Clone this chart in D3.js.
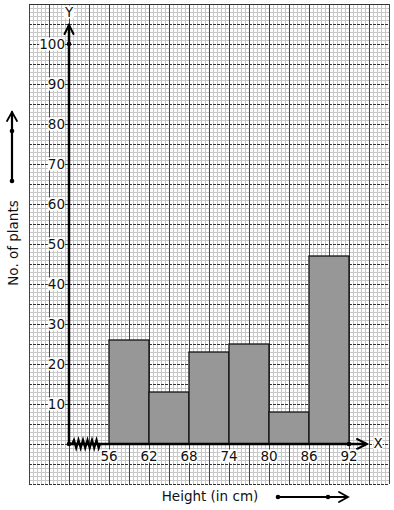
<!DOCTYPE html>
<html>
<head>
<meta charset="utf-8">
<script src="https://cdn.jsdelivr.net/npm/d3@7"></script>
<style>
  body { margin: 0; background: #fff; }
  text { font-family: "DejaVu Sans", sans-serif; font-size: 13.5px; fill: #111; }
</style>
</head>
<body>
<div id="chart"></div>
<script>
'use strict';

// class intervals (height in cm) and number of plants
const edges = [56, 62, 68, 74, 80, 86, 92];
const counts = [26, 13, 23, 25, 8, 47];
const yTicks = [10, 20, 30, 40, 50, 60, 70, 80, 90, 100];

const W = 394, H = 510;
const svg = d3.select('#chart').append('svg').attr('width', W).attr('height', H);

const x = d3.scaleLinear().domain([50, 92]).range([69, 349]);
const y = d3.scaleLinear().domain([0, 100]).range([444, 44]);

// graph paper
const gx0 = 29, gx1 = 389, gy0 = 4, gy1 = 484;
const paper = svg.append('g');
d3.range(gx0, gx1 + 1, 4).forEach(function (px) {
  if ((px - gx0) % 20 == 0) return;
  paper.append('line').attr('x1', px).attr('x2', px).attr('y1', gy0).attr('y2', gy1)
    .attr('stroke', '#c8c8c8').attr('stroke-width', 1).attr('shape-rendering', 'crispEdges');
});
d3.range(gy0, gy1 + 1, 4).forEach(function (py) {
  if ((py - gy0) % 20 == 0) return;
  paper.append('line').attr('x1', gx0).attr('x2', gx1).attr('y1', py).attr('y2', py)
    .attr('stroke', '#c8c8c8').attr('stroke-width', 1).attr('shape-rendering', 'crispEdges');
});
// major lines: vertical solid, horizontal dashed
d3.range(gx0, gx1 + 1, 20).forEach(function (px) {
  paper.append('line').attr('x1', px).attr('x2', px).attr('y1', gy0).attr('y2', gy1)
    .attr('stroke', '#444').attr('stroke-width', 1).attr('shape-rendering', 'crispEdges');
});
d3.range(gy0, gy1 + 1, 20).forEach(function (py) {
  paper.append('line').attr('x1', gx0).attr('x2', gx1).attr('y1', py).attr('y2', py)
    .attr('stroke', '#333').attr('stroke-width', 1)
    .attr('stroke-dasharray', py == gy0 ? null : '3,1').attr('shape-rendering', 'crispEdges');
});

// bars
const bins = counts.map(function (c, i) { return { x0: edges[i], x1: edges[i + 1], n: c }; });
svg.append('g').selectAll('rect').data(bins).join('rect')
  .attr('x', d => x(d.x0))
  .attr('y', d => y(d.n))
  .attr('width', d => x(d.x1) - x(d.x0))
  .attr('height', d => y(0) - y(d.n))
  .attr('fill', '#979797')
  .attr('stroke', '#111')
  .attr('stroke-width', 1.3);

// axes
const ax = svg.append('g').attr('stroke', '#000').attr('fill', 'none').attr('stroke-linecap', 'round');
ax.append('line').attr('x1', x(50)).attr('x2', x(50)).attr('y1', y(0)).attr('y2', 25).attr('stroke-width', 2.5);
ax.append('path').attr('d', 'M' + (x(50) - 4.5) + ',34 L' + x(50) + ',25 L' + (x(50) + 4.5) + ',34').attr('stroke-width', 2);
ax.append('line').attr('x1', x(50)).attr('x2', 366).attr('y1', y(0)).attr('y2', y(0)).attr('stroke-width', 2.5);
ax.append('path').attr('d', 'M357,' + (y(0) - 5) + ' L367,' + y(0) + ' L357,' + (y(0) + 5)).attr('stroke-width', 2);

// kink on x axis
let zz = 'M' + (x(50) + 3) + ',' + y(0);
for (let i = 0; i < 6; i++) {
  const bx = x(50) + 5 + i * 4.5;
  zz += ' L' + bx + ',' + (y(0) - 4) + ' L' + (bx + 2.2) + ',' + (y(0) + 4);
}
zz += ' L' + (x(50) + 31) + ',' + y(0);
ax.append('path').attr('d', zz).attr('stroke-width', 2.2);

// points on axes
svg.append('g').selectAll('circle')
  .data([[x(50), y(0)], [x(50), y(100)], [x(92), y(0)]])
  .join('circle').attr('cx', d => d[0]).attr('cy', d => d[1]).attr('r', 2.3).attr('fill', '#000');

// labels with white background
function label(tx, ty, str, anchor) {
  const t = svg.append('text').attr('x', tx).attr('y', ty).attr('text-anchor', anchor)
    .attr('dominant-baseline', 'central').text(str);
  const b = t.node().getBBox();
  svg.insert('rect', function () { return t.node(); })
    .attr('x', b.x).attr('y', b.y + 1.5).attr('width', b.width).attr('height', b.height - 3).attr('fill', '#fff');
  return t;
}
yTicks.forEach(function (v) { label(x(50) - 4, y(v), String(v), 'end'); });
edges.forEach(function (v) { label(x(v), 456, String(v), 'middle'); });
label(x(50), 12, 'Y', 'middle');
label(378, y(0) - 1, 'X', 'middle');

// axis titles
svg.append('text').attr('x', 210).attr('y', 496).attr('text-anchor', 'middle')
  .attr('dominant-baseline', 'central').text('Height (in cm)');
svg.append('text').attr('transform', 'translate(13,243) rotate(-90)').attr('text-anchor', 'middle')
  .attr('dominant-baseline', 'central').text('No. of plants');

// direction arrows beside the titles
const dir = svg.append('g').attr('stroke', '#000').attr('fill', 'none').attr('stroke-linecap', 'round');
dir.append('line').attr('x1', 278).attr('x2', 347).attr('y1', 497).attr('y2', 497).attr('stroke-width', 2.2);
dir.append('path').attr('d', 'M339,492 L348,497 L339,502').attr('stroke-width', 1.8);
dir.append('line').attr('x1', 12).attr('x2', 12).attr('y1', 181).attr('y2', 112).attr('stroke-width', 2.2);
dir.append('path').attr('d', 'M7,121 L12,112 L17,121').attr('stroke-width', 1.8);
svg.append('g').selectAll('circle').data([[278, 497], [328, 497], [12, 181], [12, 131]])
  .join('circle').attr('cx', d => d[0]).attr('cy', d => d[1]).attr('r', 2.3).attr('fill', '#000');
</script>
</body>
</html>
